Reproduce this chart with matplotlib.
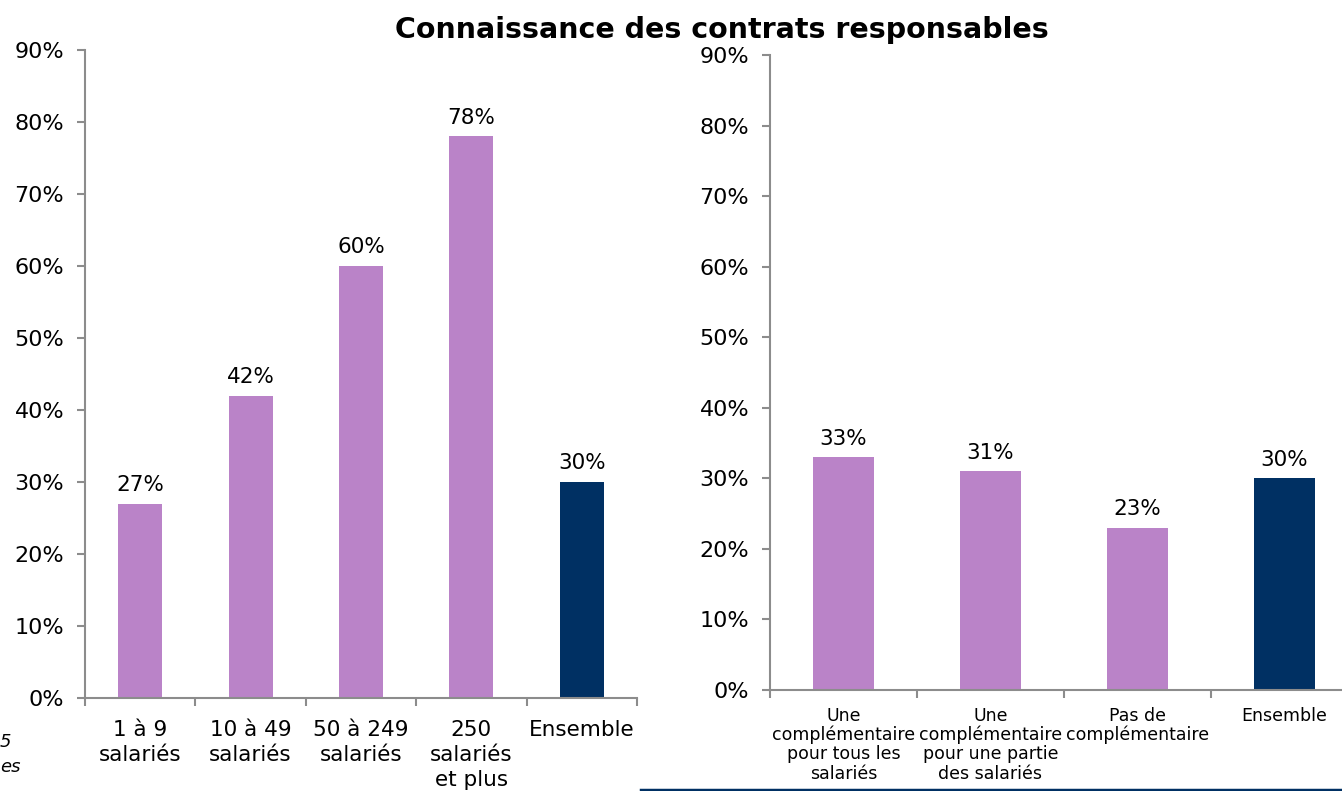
import numpy as np
import matplotlib.pyplot as plt
from matplotlib.ticker import PercentFormatter, MultipleLocator

# tailles d'entreprise
tailles = ["1 à 9\nsalariés", "10 à 49\nsalariés", "50 à 249\nsalariés",
           "250\nsalariés\net plus", "Ensemble"]
taux_taille = [27, 42, 60, 78, 30]

# type de complémentaire santé
complementaires = ["Une\ncomplémentaire\npour tous les\nsalariés",
                   "Une\ncomplémentaire\npour une partie\ndes salariés",
                   "Pas de\ncomplémentaire", "Ensemble"]
taux_compl = [33, 31, 23, 30]

VIOLET = "#BA83C8"
MARINE = "#003063"
GRIS = "#8C8C8C"

plt.rcParams['font.family'] = ['Verdana', 'DejaVu Sans']

fig = plt.figure(figsize=(13.42, 7.91), dpi=100)
ax1 = fig.add_axes([85 / 1342, 93 / 791, 552 / 1342, 648 / 791])
ax2 = fig.add_axes([770 / 1342, 101 / 791, 588 / 1342, 635 / 791])


def barres(ax, labels, valeurs, largeur, taille_lab, interligne, ecart):
    n = len(valeurs)
    x = np.arange(n)
    couleurs = [VIOLET] * (n - 1) + [MARINE]
    ax.bar(x, valeurs, width=largeur, color=couleurs)
    for xi, v in zip(x, valeurs):
        ax.text(xi, v + 1.2, f"{v}%", ha='center', va='bottom', fontsize=15.5)
    ax.set_xlim(-0.5, n - 0.5)
    ax.set_ylim(0, 90)
    ax.yaxis.set_major_locator(MultipleLocator(10))
    ax.yaxis.set_major_formatter(PercentFormatter(decimals=0))
    ax.set_xticks(x)
    ax.set_xticklabels(labels, fontsize=taille_lab, linespacing=interligne)
    ax.set_xticks(np.arange(n + 1) - 0.5, minor=True)
    ax.tick_params(axis='x', which='major', length=0, pad=ecart)
    ax.tick_params(axis='x', which='minor', length=6, color=GRIS, width=1.5)
    ax.tick_params(axis='y', length=6, color=GRIS, width=1.5, labelsize=16, pad=9)
    for s in ['top', 'right']:
        ax.spines[s].set_visible(False)
    for s in ['left', 'bottom']:
        ax.spines[s].set_color(GRIS)
        ax.spines[s].set_linewidth(1.5)


barres(ax1, tailles, taux_taille, 0.4, 15.5, 1.32, 16)
barres(ax2, complementaires, taux_compl, 0.41, 12.5, 1.08, 12)

fig.text(722 / 1342, 1 - 30 / 791, "Connaissance des contrats responsables",
         ha='center', va='center', fontsize=20.5, fontweight='heavy')

# note de bas de page coupée à gauche
fig.text(0, 1 - 742 / 791, "5", fontsize=13, style='italic', va='center')
fig.text(0, 1 - 767 / 791, "es", fontsize=13, style='italic', va='center')

# filet bleu en bas à droite
fig.add_artist(plt.Line2D([641 / 1342, 1], [1.5 / 791, 1.5 / 791],
                          color=MARINE, linewidth=2.5, transform=fig.transFigure))

fig.savefig("out.png", dpi=100)
